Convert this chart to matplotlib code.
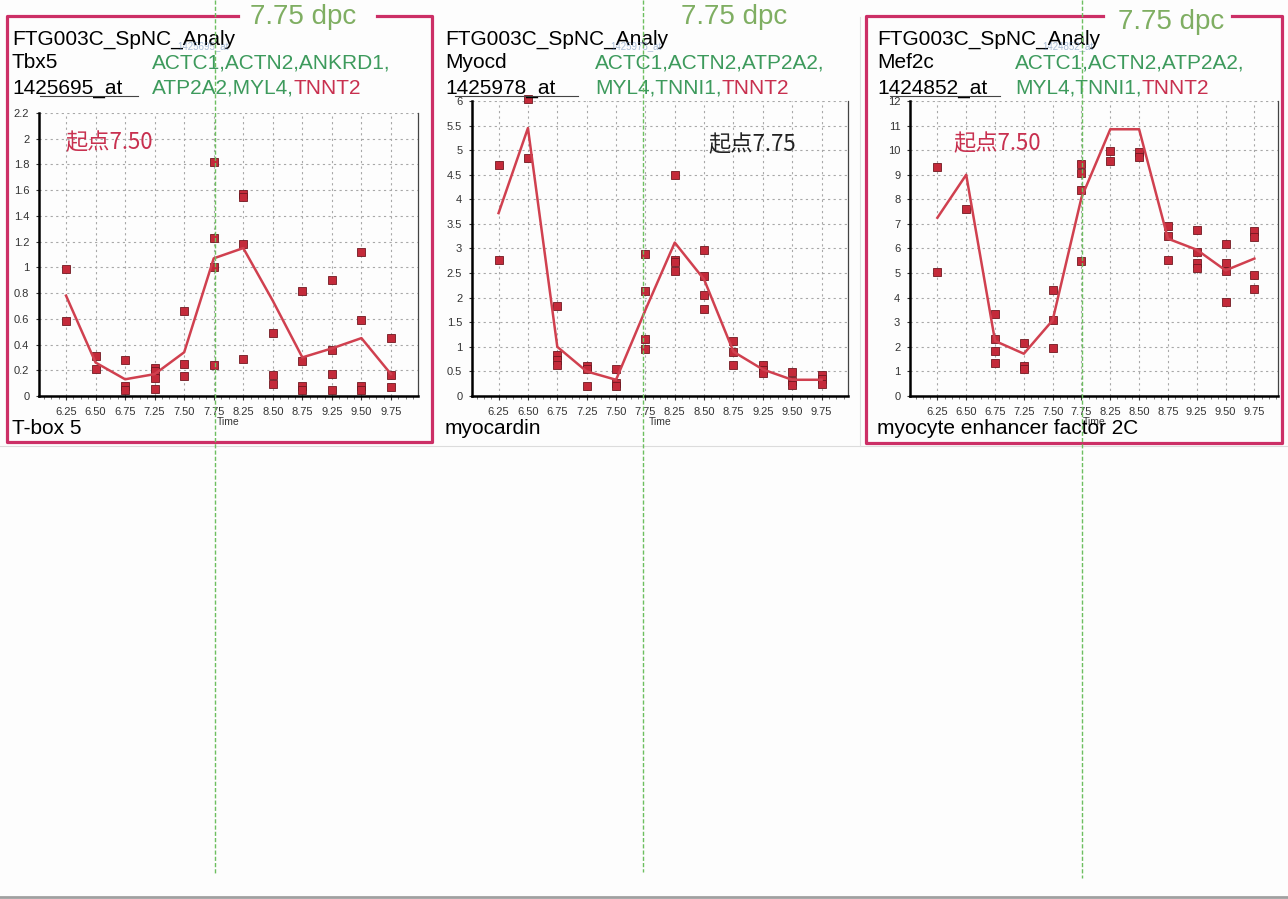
# plot.py
# Three time-course panels (Tbx5, Myocd, Mef2c) with replicate points and mean line.

import matplotlib
matplotlib.use('Agg')
import matplotlib.pyplot as plt
from matplotlib.lines import Line2D
from matplotlib.text import Annotation
from matplotlib.ticker import FuncFormatter, MultipleLocator
from matplotlib import font_manager

times = ['6.25', '6.50', '6.75', '7.25', '7.50', '7.75',
         '8.25', '8.50', '8.75', '9.25', '9.50', '9.75']

tbx5_points = [[0.99, 0.58], [0.31, 0.21], [0.28, 0.075, 0.05],
               [0.22, 0.195, 0.14, 0.055], [0.66, 0.245, 0.155],
               [1.82, 1.23, 1.0, 0.24], [1.57, 1.55, 1.18, 0.285],
               [0.49, 0.16, 0.095], [0.82, 0.27, 0.075, 0.05],
               [0.90, 0.36, 0.17, 0.05], [1.12, 0.59, 0.075, 0.045],
               [0.45, 0.16, 0.07]]
tbx5_mean = [0.78, 0.26, 0.13, 0.17, 0.34, 1.07, 1.15, 0.74, 0.30, 0.37, 0.45, 0.17]

myocd_points = [[4.69, 2.76], [6.05, 4.85], [1.83, 0.84, 0.74, 0.64],
                [0.62, 0.54, 0.21], [0.54, 0.27, 0.20],
                [2.89, 2.14, 1.16, 0.96], [4.49, 2.77, 2.73, 2.54],
                [2.96, 2.45, 2.06, 1.77], [1.11, 0.89, 0.64],
                [0.64, 0.52, 0.47], [0.49, 0.30, 0.22], [0.42, 0.35, 0.25]]
myocd_mean = [3.72, 5.45, 1.0, 0.50, 0.33, 1.75, 3.12, 2.37, 0.90, 0.54, 0.33, 0.33]

mef2c_points = [[9.32, 5.06], [7.61], [3.35, 2.33, 1.83, 1.34],
                [2.17, 1.21, 1.11], [4.33, 3.08, 1.95],
                [9.45, 9.07, 8.37, 5.49], [9.98, 9.55], [9.93, 9.74],
                [6.90, 6.49, 5.55], [6.77, 5.86, 5.41, 5.22],
                [6.18, 5.42, 5.08, 3.82], [6.71, 6.47, 4.91, 4.34]]
mef2c_mean = [7.25, 9.0, 2.24, 1.72, 3.08, 8.07, 10.85, 10.85, 6.40, 5.95, 5.11, 5.59]

W, H = 1288, 899
fig = plt.figure(figsize=(W / 100, H / 100), dpi=100)
fig.patch.set_facecolor('#fdfdfd')

names = {f.name for f in font_manager.fontManager.ttflist}
TICK_FONT = 'Liberation Sans Narrow' if 'Liberation Sans Narrow' in names else 'Liberation Sans'
TEXT_FONT = 'Liberation Sans'
CJK = ['Noto Sans CJK JP', 'DejaVu Sans']

PINK = '#cc2f66'
GREEN = '#3d9a5c'
DPC_GREEN = '#7fae62'
CRIMSON = '#c8304f'
MARK = '#c42a3a'
LINE = '#d0404f'


def fx(x):
    return x / W


def fy(y):
    return 1 - y / H


def fig_line(xs, ys, **kw):
    fig.add_artist(Line2D([fx(x) for x in xs], [fy(y) for y in ys],
                          transform=fig.transFigure, **kw))


def draw_panel(box, xlim, ylim, ystep, points, mean):
    left, top, right, bottom = box
    ax = fig.add_axes([fx(left), fy(bottom), (right - left) / W, (bottom - top) / H])
    ax.set_facecolor('none')
    ax.set_xlim(*xlim)
    ax.set_ylim(*ylim)
    ax.set_xticks(range(len(times)))
    ax.set_xticklabels(times)
    ax.xaxis.set_minor_locator(MultipleLocator(0.25))
    ax.yaxis.set_major_locator(MultipleLocator(ystep))
    ax.yaxis.set_major_formatter(FuncFormatter(lambda v, p: f'{v:g}'))
    ax.tick_params(axis='x', which='major', length=3, pad=5, labelsize=8, colors='#333333')
    ax.tick_params(axis='x', which='minor', length=2, color='#666666')
    ax.tick_params(axis='y', length=2, pad=5, labelsize=8, colors='#333333')
    for lab in ax.get_xticklabels() + ax.get_yticklabels():
        lab.set_family(TICK_FONT)
    ax.grid(True, which='major', color='#a8a8a8', linestyle=(0, (2, 3)), linewidth=0.8)
    ax.spines['top'].set_visible(False)
    ax.spines['left'].set_linewidth(1.8)
    ax.spines['bottom'].set_linewidth(1.8)
    ax.spines['right'].set_linewidth(0.9)
    ax.spines['right'].set_color('#444444')
    for i, vals in enumerate(points):
        ax.plot([i] * len(vals), vals, 's', ms=6.3, mfc=MARK, mec='#701820',
                mew=0.6, zorder=3, clip_on=False)
    ax.plot(range(len(mean)), mean, color=LINE, lw=1.8, zorder=4)
    ax.set_xlabel('Time', fontsize=7.5, family=TICK_FONT, labelpad=0, color='#333333')
    return ax


ax1 = draw_panel((39, 113, 418, 396), (-0.915, 11.915), (0, 2.2), 0.2, tbx5_points, tbx5_mean)
ax2 = draw_panel((472, 101, 848, 396), (-0.905, 11.9), (0, 6), 0.5, myocd_points, myocd_mean)
ax3 = draw_panel((910, 101, 1278, 396), (-0.95, 11.82), (0, 12), 1, mef2c_points, mef2c_mean)

# panel frames
fig_line([238, 7, 7, 432, 432, 377], [16, 16, 442, 442, 16, 16], color=PINK, lw=2.3)
fig_line([1103, 866, 866, 1282, 1282, 1232], [16, 16, 443, 443, 16, 16], color=PINK, lw=2.3)
fig_line([0, 1288], [446, 446], color='#dcdcdc', lw=0.8)
fig_line([860, 860], [17, 446], color='#e0e0e0', lw=0.8)
fig_line([0, 1288], [897, 897], color='#a0a0a0', lw=2)

# headers
headers = [
    (12, 152, 'Tbx5', '1425695_at', 'ACTC1,ACTN2,ANKRD1,', 'ATP2A2,MYL4,', 'T-box 5', (40, 138)),
    (445, 595, 'Myocd', '1425978_at', 'ACTC1,ACTN2,ATP2A2,', 'MYL4,TNNI1,', 'myocardin', (455, 578)),
    (877, 1015, 'Mef2c', '1424852_at', 'ACTC1,ACTN2,ATP2A2,', 'MYL4,TNNI1,', 'myocyte enhancer factor 2C', (890, 1000)),
]
for x0, xg, gene, probe, g1, g2, full, ul in headers:
    fig.text(fx(x0), fy(39), 'FTG003C_SpNC_Analy', fontsize=15, family=TEXT_FONT, va='center')
    fig.text(fx(x0 + 165), fy(46), probe, fontsize=7, family=TEXT_FONT, va='center',
             color='#5a7fb0', alpha=0.5)
    fig.text(fx(x0), fy(63), gene, fontsize=15, family=TEXT_FONT, va='center')
    fig.text(fx(x0), fy(88), probe, fontsize=15, family=TEXT_FONT, va='center')
    fig_line(list(ul), [96, 96], color='#444444', lw=0.8)
    fig.text(fx(xg), fy(63), g1, fontsize=15, family=TEXT_FONT, va='center', color=GREEN)
    t2 = fig.text(fx(xg), fy(88), g2, fontsize=15, family=TEXT_FONT, va='center', color=GREEN)
    fig.add_artist(Annotation('TNNT2', xy=(1, 0), xycoords=t2, va='bottom', ha='left',
                              fontsize=15, family=TEXT_FONT, color=CRIMSON))
    fig.text(fx(x0), fy(428), full, fontsize=15, family=TEXT_FONT, va='center')

for x, y in [(250, 17), (681, 17), (1118, 22)]:
    fig.text(fx(x), fy(y), '7.75 dpc', fontsize=20, family=TEXT_FONT, va='center', color=DPC_GREEN)

fig.text(fx(65), fy(143), '起点7.50', fontsize=16, family=CJK, va='center', color=CRIMSON)
fig.text(fx(708), fy(145), '起点7.75', fontsize=16, family=CJK, va='center', color='#222222')
fig.text(fx(953), fy(144), '起点7.50', fontsize=16, family=CJK, va='center', color=CRIMSON)

# 7.75 dpc guide lines
for x, y_end in [(215, 873), (643, 872), (1082, 878)]:
    fig_line([x, x], [0, y_end], color='#6dbf5f', lw=1.0, linestyle=(0, (3, 1.5)), zorder=5)

fig.savefig('out.png', dpi=100, facecolor=fig.get_facecolor())
